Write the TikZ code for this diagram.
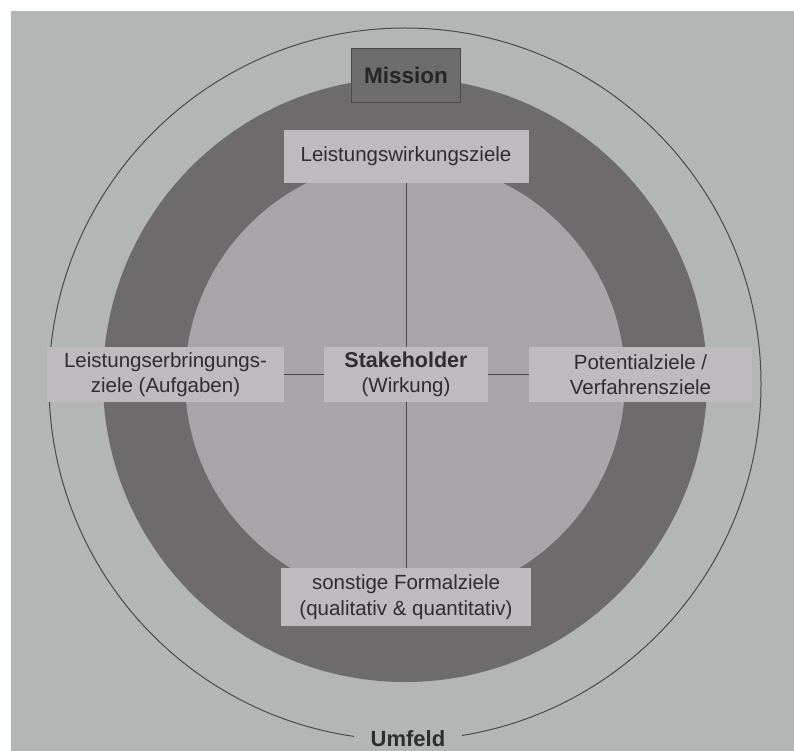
\documentclass[tikz,border=0pt]{standalone}
\usepackage{fontspec}
\setmainfont{Liberation Sans}
\begin{document}
\definecolor{paper}{HTML}{B2B6B5}
\definecolor{ring}{HTML}{6D6B6C}
\definecolor{core}{HTML}{A8A4A8}
\definecolor{boxfill}{HTML}{BFBABE}
\definecolor{missionfill}{HTML}{6E6D6D}
\definecolor{ink}{HTML}{2E2E2E}
\definecolor{rule}{HTML}{4A4A4A}
\begin{tikzpicture}[x=1pt,y=-1pt,
  zbox/.style={fill=boxfill, inner sep=0pt, align=center, text=ink,
    font=\fontsize{20.5}{25.5}\selectfont},
  linkline/.style={draw=rule, line width=0.9pt}]
  % page and paper area
  \fill[white] (0,0) rectangle (794,751);
  \useasboundingbox (0,0) rectangle (794,751);
  \fill[paper] (11,11) rectangle (794,751);

  % centres of the rings
  \coordinate (oc) at (405,384);
  \coordinate (rc) at (405,380);

  % outer environment circle
  \draw[rule, line width=1pt] (oc) circle[radius=356pt];
  % dark ring and inner area
  \fill[ring] (rc) circle[radius=302pt];
  \fill[core] (rc) circle[radius=220pt];

  % mission
  \node[draw=rule, fill=missionfill, line width=0.6pt, minimum width=109pt,
    minimum height=54pt, inner sep=0pt, text=black!85,
    font=\fontsize{22.5}{26}\selectfont\bfseries] (mission) at (406,75) {Mission};

  % goal boxes
  \node[zbox, minimum width=245pt, minimum height=53pt] (top) at (406,156.5)
    {Leistungswirkungsziele};
  \node[zbox, minimum width=164pt, minimum height=55pt] (stake) at (406,374.5)
    {{\fontsize{21.5}{25.5}\selectfont\bfseries Stakeholder}\\(Wirkung)};
  \node[zbox, minimum width=237pt, minimum height=55pt] (left) at (165.5,374.5)
    {Leistungserbringungs-\\ziele (Aufgaben)};
  \node[zbox, minimum width=223pt, minimum height=55pt] (right) at (640.5,374.5)
    {Potentialziele /\\Verfahrensziele};
  \node[zbox, minimum width=250pt, minimum height=58pt] (bottom) at (406,597)
    {sonstige Formalziele\\(qualitativ \& quantitativ)};

  % cross connecting the boxes
  \draw[linkline] (top.south) -- (stake.north);
  \draw[linkline] (stake.south) -- (bottom.north);
  \draw[linkline] (left.east) -- (stake.west);
  \draw[linkline] (stake.east) -- (right.west);

  % environment label breaking the outer circle
  \node[fill=paper, inner xsep=17pt, inner ysep=3pt, text=ink,
    font=\fontsize{22}{26}\selectfont\bfseries] (env) at (408,739) {Umfeld};
\end{tikzpicture}
\end{document}
